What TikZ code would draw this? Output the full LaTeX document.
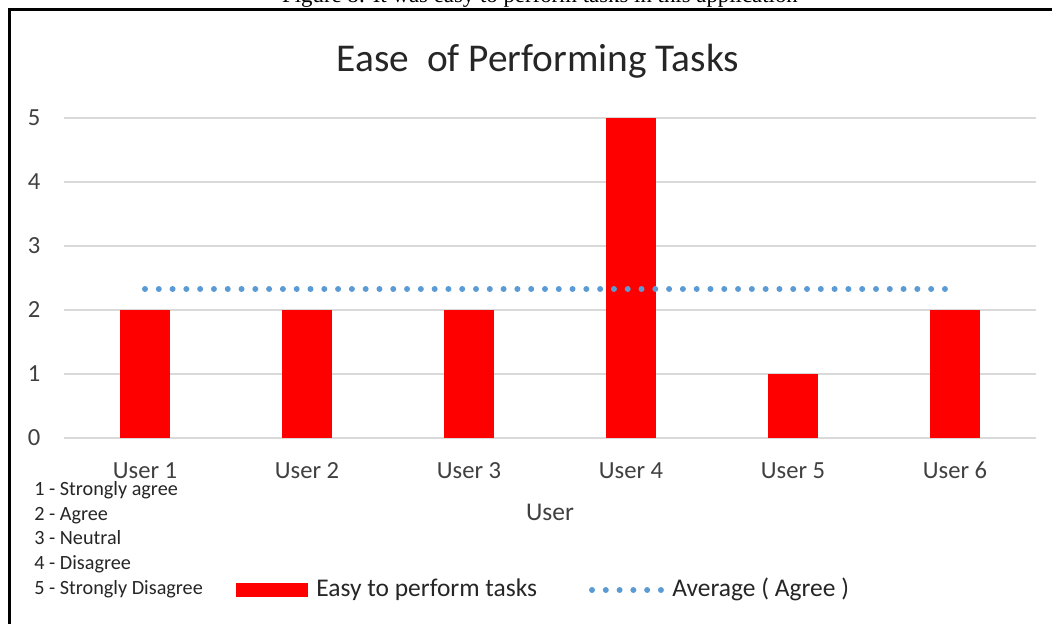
\documentclass[tikz,border=0pt]{standalone}
\usepackage{fontspec}
\setmainfont{Carlito}
\newfontfamily\capfont{Liberation Serif}
\usetikzlibrary{positioning}
\definecolor{barred}{RGB}{255,0,0}
\definecolor{avgblue}{RGB}{91,155,213}
\definecolor{gridgrey}{RGB}{217,217,217}
\definecolor{labelgrey}{RGB}{64,64,64}

\begin{document}
\begin{tikzpicture}[x=0.02cm,y=-0.02cm,
    grid line/.style={gridgrey,line width=1.1pt},
    bar/.style={fill=barred},
    avg line/.style={avgblue,line width=3.4pt,line cap=round,dash pattern=on 0pt off 7.85pt},
    tick label/.style={font=\fontsize{14}{16}\selectfont,text=labelgrey,inner sep=0pt,anchor=base},
    note/.style={font=\fontsize{11.5}{13}\selectfont,text=black!85,anchor=base west,inner sep=0pt},
    legend text/.style={font=\fontsize{14.5}{17}\selectfont,text=black!85,anchor=base west,inner sep=0pt}]
    \useasboundingbox (0,0) rectangle (1052,624);
    \fill[white] (0,0) rectangle (1052,624);
    % caption, cut off at the top of the page
    \node[font=\capfont\fontsize{13}{15}\selectfont,anchor=base,inner sep=0pt] (caption) at (540,3)
      {Figure 8: It was easy to perform tasks in this application};
    % frame
    \draw[line width=1.7pt] (9.5,624) -- (9.5,9.5) -- (1052,9.5);
    \node[font=\fontsize{22.4}{26}\selectfont,text=black!85,anchor=base,inner sep=0pt] (title) at (538,72) {Ease\ \ of Performing Tasks};
    % grid and y labels
    \draw[grid line] (64,118) -- (1036,118);
    \draw[grid line] (64,182) -- (1036,182);
    \draw[grid line] (64,246) -- (1036,246);
    \draw[grid line] (64,310) -- (1036,310);
    \draw[grid line] (64,374) -- (1036,374);
    \draw[grid line] (64,438) -- (1036,438);
    \node[tick label] (y5) at (34,126) {5};
    \node[tick label] (y4) at (34,190) {4};
    \node[tick label] (y3) at (34,254) {3};
    \node[tick label] (y2) at (34,318) {2};
    \node[tick label] (y1) at (34,382) {1};
    \node[tick label] (y0) at (34,446) {0};
    % bars
    \fill[bar] (120,438) rectangle (170,310);
    \fill[bar] (282,438) rectangle (332,310);
    \fill[bar] (444,438) rectangle (494,310);
    \fill[bar] (606,438) rectangle (656,118);
    \fill[bar] (768,438) rectangle (818,374);
    \fill[bar] (930,438) rectangle (980,310);
    % average
    \coordinate (avg start) at (145,289);
    \coordinate (avg end) at (946,289);
    \draw[avg line] (avg start) -- (avg end);
    % x labels
    \node[tick label] (u1) at (145,479) {User 1};
    \node[tick label] (u2) at (307,479) {User 2};
    \node[tick label] (u3) at (469,479) {User 3};
    \node[tick label] (u4) at (631,479) {User 4};
    \node[tick label] (u5) at (793,479) {User 5};
    \node[tick label] (u6) at (955,479) {User 6};
    \node[tick label,font=\fontsize{14.5}{17}\selectfont] (axis) at (550,521) {User};
    % scale notes
    \node[note] (n1) at (34,496) {1 - Strongly agree};
    \node[note] (n2) at (34,521) {2 - Agree};
    \node[note] (n3) at (34,545) {3 - Neutral};
    \node[note] (n4) at (34,570) {4 - Disagree};
    \node[note] (n5) at (34,595) {5 - Strongly Disagree};
    % legend
    \node[bar,minimum width=41pt,minimum height=8pt,inner sep=0pt,anchor=west] (key bar) at (236,590) {};
    \node[legend text] (key bar text) at (316,597) {Easy to perform tasks};
    \coordinate (key avg start) at (592,590);
    \coordinate (key avg end) at (661,590);
    \draw[avg line] (key avg start) -- (key avg end);
    \node[legend text] (key avg text) at (672,597) {Average ( Agree )};
\end{tikzpicture}
\end{document}
